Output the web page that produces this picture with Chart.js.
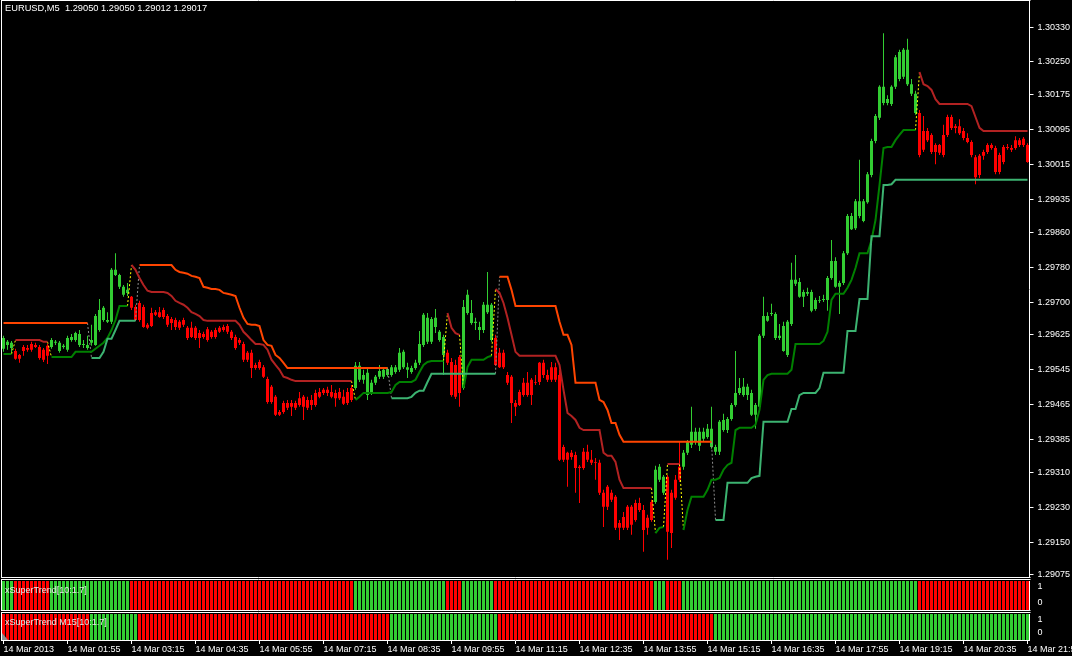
<!DOCTYPE html>
<html>
<head>
<meta charset="utf-8">
<script src="https://cdn.jsdelivr.net/npm/chart.js@4.4.1/dist/chart.umd.min.js"></script>
<style>
  html, body { margin: 0; padding: 0; background: #000; }
  #wrap { position: relative; width: 1072px; height: 656px; overflow: hidden; background: #000; }
  canvas { position: absolute; left: 0; }
</style>
</head>
<body>
<div id="wrap">
  <canvas id="main" width="1072" height="578" style="top:0px"></canvas>
  <canvas id="sub1" width="1072" height="34" style="top:578px"></canvas>
  <canvas id="sub2" width="1072" height="44" style="top:612px"></canvas>
</div>
<script>
(function () {
  "use strict";

  // EURUSD M5 candles, 14 Mar 2013 00:35 .. 21:55 (257 bars).
  const opens = [
    1.29593,1.29602,1.29595,1.29588,1.29579,1.29597,1.29595,1.29604,1.29602,1.29597,
    1.29591,1.29600,1.29597,1.29607,1.29588,1.29597,1.29591,1.29613,1.29613,1.29602,
    1.29602,1.29595,1.29607,1.29602,1.29636,1.29659,1.29655,1.29655,1.29762,1.29735,
    1.29717,1.29721,1.29712,1.29689,1.29698,1.29689,1.29648,1.29675,1.29677,1.29677,
    1.29682,1.29668,1.29661,1.29659,1.29655,1.29659,1.29641,1.29641,1.29641,1.29629,
    1.29627,1.29638,1.29632,1.29636,1.29641,1.29643,1.29645,1.29632,1.29620,1.29613,
    1.29604,1.29584,1.29584,1.29556,1.29563,1.29551,1.29524,1.29506,1.29483,1.29448,
    1.29469,1.29469,1.29469,1.29469,1.29480,1.29483,1.29476,1.29476,1.29492,1.29494,
    1.29499,1.29499,1.29494,1.29492,1.29494,1.29483,1.29494,1.29503,1.29503,1.29522,
    1.29522,1.29487,1.29492,1.29515,1.29529,1.29529,1.29533,1.29533,1.29540,1.29545,
    1.29551,1.29545,1.29540,1.29549,1.29561,1.29602,1.29609,1.29609,1.29643,1.29613,
    1.29579,1.29584,1.29563,1.29556,1.29574,1.29503,1.29675,1.29652,1.29652,1.29636,
    1.29636,1.29677,1.29613,1.29618,1.29584,1.29584,1.29533,1.29529,1.29469,1.29494,
    1.29515,1.29515,1.29522,1.29517,1.29561,1.29561,1.29533,1.29551,1.29551,1.29533,
    1.29368,1.29355,1.29355,1.29350,1.29323,1.29357,1.29357,1.29339,1.29334,1.29332,
    1.29263,1.29277,1.29263,1.29254,1.29194,1.29208,1.29231,1.29231,1.29240,1.29240,
    1.29224,1.29206,1.29242,1.29242,1.29293,1.29263,1.29300,1.29263,1.29293,1.29323,
    1.29323,1.29355,1.29373,1.29380,1.29371,1.29387,1.29391,1.29368,1.29357,1.29357,
    1.29407,1.29407,1.29432,1.29464,1.29492,1.29487,1.29487,1.29492,1.29442,1.29460,
    1.29623,1.29668,1.29673,1.29673,1.29618,1.29645,1.29579,1.29650,1.29742,1.29746,
    1.29712,1.29719,1.29723,1.29684,1.29703,1.29705,1.29705,1.29755,1.29794,1.29735,
    1.29744,1.29812,1.29897,1.29869,1.29897,1.29931,1.29929,1.29991,1.30069,1.30122,
    1.30156,1.30165,1.30154,1.30193,1.30211,1.30216,1.30278,1.30199,1.30177,1.30133,
    1.30049,1.30092,1.30083,1.30044,1.30060,1.30037,1.30083,1.30124,1.30099,1.30103,
    1.30092,1.30076,1.30067,1.30032,1.29991,1.30035,1.30044,1.30060,1.30053,1.29998,
    1.30021,1.30055,1.30053,1.30053,1.30071,1.30060,1.30060
  ];
  const highs = [
    1.29623,1.29613,1.29611,1.29593,1.29581,1.29602,1.29602,1.29609,1.29607,1.29602,
    1.29595,1.29604,1.29618,1.29613,1.29611,1.29604,1.29623,1.29627,1.29632,1.29636,
    1.29613,1.29623,1.29648,1.29673,1.29707,1.29691,1.29677,1.29778,1.29812,1.29765,
    1.29739,1.29744,1.29714,1.29694,1.29703,1.29694,1.29652,1.29687,1.29682,1.29689,
    1.29687,1.29673,1.29666,1.29664,1.29659,1.29664,1.29645,1.29655,1.29645,1.29636,
    1.29632,1.29643,1.29636,1.29641,1.29645,1.29648,1.29650,1.29636,1.29625,1.29618,
    1.29609,1.29588,1.29591,1.29561,1.29568,1.29556,1.29529,1.29510,1.29487,1.29453,
    1.29474,1.29476,1.29476,1.29474,1.29494,1.29487,1.29483,1.29487,1.29499,1.29503,
    1.29503,1.29506,1.29510,1.29499,1.29503,1.29499,1.29503,1.29510,1.29563,1.29563,
    1.29545,1.29549,1.29522,1.29533,1.29556,1.29549,1.29551,1.29556,1.29556,1.29595,
    1.29591,1.29561,1.29554,1.29568,1.29634,1.29675,1.29675,1.29666,1.29684,1.29636,
    1.29625,1.29591,1.29572,1.29568,1.29579,1.29705,1.29728,1.29705,1.29664,1.29655,
    1.29700,1.29769,1.29698,1.29625,1.29595,1.29591,1.29540,1.29533,1.29476,1.29499,
    1.29526,1.29540,1.29526,1.29533,1.29563,1.29568,1.29545,1.29563,1.29561,1.29545,
    1.29373,1.29357,1.29361,1.29357,1.29327,1.29366,1.29373,1.29361,1.29343,1.29339,
    1.29270,1.29281,1.29270,1.29258,1.29201,1.29219,1.29235,1.29235,1.29247,1.29252,
    1.29235,1.29213,1.29247,1.29325,1.29329,1.29304,1.29304,1.29270,1.29304,1.29380,
    1.29361,1.29384,1.29460,1.29412,1.29412,1.29412,1.29421,1.29460,1.29373,1.29430,
    1.29444,1.29437,1.29469,1.29588,1.29526,1.29526,1.29513,1.29499,1.29469,1.29627,
    1.29712,1.29677,1.29696,1.29677,1.29650,1.29655,1.29659,1.29790,1.29808,1.29755,
    1.29728,1.29733,1.29728,1.29710,1.29714,1.29717,1.29760,1.29842,1.29803,1.29749,
    1.29817,1.29902,1.29904,1.29936,1.30026,1.29936,1.29998,1.30074,1.30131,1.30197,
    1.30316,1.30174,1.30197,1.30266,1.30278,1.30282,1.30303,1.30211,1.30184,1.30140,
    1.30126,1.30099,1.30087,1.30064,1.30062,1.30106,1.30129,1.30129,1.30108,1.30119,
    1.30099,1.30087,1.30071,1.30037,1.30039,1.30049,1.30064,1.30064,1.30058,1.30042,
    1.30060,1.30062,1.30060,1.30080,1.30076,1.30078,1.30064
  ];
  const lows = [
    1.29586,1.29591,1.29584,1.29568,1.29561,1.29577,1.29586,1.29586,1.29595,1.29568,
    1.29563,1.29558,1.29593,1.29602,1.29584,1.29593,1.29586,1.29609,1.29609,1.29597,
    1.29595,1.29591,1.29600,1.29600,1.29632,1.29655,1.29652,1.29650,1.29760,1.29730,
    1.29712,1.29714,1.29682,1.29657,1.29655,1.29641,1.29638,1.29643,1.29668,1.29664,
    1.29661,1.29643,1.29636,1.29636,1.29636,1.29643,1.29613,1.29618,1.29613,1.29595,
    1.29616,1.29609,1.29616,1.29616,1.29629,1.29632,1.29627,1.29613,1.29591,1.29602,
    1.29563,1.29563,1.29526,1.29545,1.29545,1.29526,1.29467,1.29467,1.29439,1.29439,
    1.29444,1.29453,1.29439,1.29453,1.29460,1.29430,1.29453,1.29453,1.29460,1.29480,
    1.29487,1.29485,1.29480,1.29460,1.29476,1.29464,1.29464,1.29471,1.29499,1.29517,
    1.29513,1.29476,1.29487,1.29510,1.29524,1.29524,1.29529,1.29529,1.29536,1.29540,
    1.29547,1.29526,1.29536,1.29545,1.29556,1.29597,1.29604,1.29604,1.29629,1.29609,
    1.29533,1.29556,1.29483,1.29478,1.29460,1.29499,1.29671,1.29648,1.29636,1.29613,
    1.29629,1.29673,1.29609,1.29554,1.29549,1.29547,1.29510,1.29423,1.29439,1.29462,
    1.29483,1.29483,1.29464,1.29510,1.29510,1.29526,1.29517,1.29517,1.29517,1.29336,
    1.29334,1.29277,1.29339,1.29263,1.29240,1.29316,1.29334,1.29327,1.29293,1.29258,
    1.29185,1.29224,1.29242,1.29178,1.29155,1.29178,1.29178,1.29167,1.29197,1.29219,
    1.29128,1.29167,1.29197,1.29238,1.29288,1.29258,1.29110,1.29137,1.29247,1.29288,
    1.29316,1.29350,1.29366,1.29373,1.29359,1.29382,1.29387,1.29364,1.29350,1.29350,
    1.29403,1.29400,1.29428,1.29460,1.29487,1.29483,1.29476,1.29439,1.29410,1.29455,
    1.29618,1.29655,1.29668,1.29613,1.29613,1.29586,1.29574,1.29645,1.29737,1.29710,
    1.29689,1.29714,1.29677,1.29680,1.29698,1.29700,1.29680,1.29751,1.29733,1.29673,
    1.29739,1.29808,1.29865,1.29865,1.29892,1.29883,1.29925,1.29986,1.30064,1.30117,
    1.30151,1.30151,1.30149,1.30188,1.30206,1.30211,1.30195,1.30172,1.30129,1.30032,
    1.30044,1.30067,1.30039,1.30016,1.30037,1.30032,1.30078,1.30094,1.30087,1.30083,
    1.30071,1.30064,1.30032,1.29970,1.29984,1.30026,1.30039,1.30049,1.29993,1.29993,
    1.30016,1.30049,1.30044,1.30049,1.30055,1.30055,1.30019
  ];
  const closes = [
    1.29618,1.29609,1.29607,1.29570,1.29570,1.29588,1.29591,1.29591,1.29597,1.29572,
    1.29568,1.29577,1.29613,1.29609,1.29607,1.29600,1.29618,1.29620,1.29629,1.29627,
    1.29604,1.29602,1.29613,1.29668,1.29682,1.29687,1.29659,1.29774,1.29774,1.29762,
    1.29735,1.29728,1.29687,1.29659,1.29659,1.29643,1.29641,1.29645,1.29671,1.29666,
    1.29666,1.29648,1.29652,1.29643,1.29641,1.29648,1.29618,1.29620,1.29618,1.29618,
    1.29620,1.29613,1.29620,1.29620,1.29632,1.29636,1.29632,1.29618,1.29595,1.29607,
    1.29568,1.29568,1.29549,1.29549,1.29549,1.29529,1.29471,1.29471,1.29442,1.29442,
    1.29448,1.29458,1.29460,1.29458,1.29464,1.29460,1.29458,1.29464,1.29464,1.29483,
    1.29492,1.29492,1.29483,1.29480,1.29480,1.29467,1.29469,1.29476,1.29554,1.29554,
    1.29533,1.29538,1.29515,1.29529,1.29542,1.29545,1.29547,1.29551,1.29551,1.29584,
    1.29586,1.29551,1.29549,1.29561,1.29604,1.29671,1.29664,1.29661,1.29664,1.29632,
    1.29620,1.29561,1.29487,1.29483,1.29492,1.29689,1.29717,1.29675,1.29655,1.29643,
    1.29694,1.29694,1.29694,1.29556,1.29551,1.29551,1.29515,1.29469,1.29460,1.29464,
    1.29487,1.29487,1.29487,1.29515,1.29517,1.29533,1.29522,1.29522,1.29522,1.29339,
    1.29339,1.29339,1.29345,1.29320,1.29320,1.29320,1.29339,1.29332,1.29332,1.29263,
    1.29231,1.29231,1.29247,1.29183,1.29183,1.29183,1.29183,1.29190,1.29201,1.29224,
    1.29178,1.29183,1.29201,1.29316,1.29323,1.29300,1.29174,1.29171,1.29252,1.29293,
    1.29355,1.29380,1.29403,1.29403,1.29403,1.29403,1.29410,1.29410,1.29368,1.29426,
    1.29430,1.29432,1.29464,1.29492,1.29503,1.29506,1.29506,1.29442,1.29464,1.29623,
    1.29668,1.29657,1.29675,1.29618,1.29623,1.29588,1.29655,1.29751,1.29751,1.29712,
    1.29723,1.29723,1.29680,1.29705,1.29705,1.29707,1.29755,1.29794,1.29735,1.29744,
    1.29812,1.29897,1.29867,1.29931,1.29931,1.29886,1.29993,1.30069,1.30126,1.30193,
    1.30193,1.30156,1.30193,1.30261,1.30273,1.30278,1.30199,1.30177,1.30133,1.30037,
    1.30092,1.30071,1.30044,1.30060,1.30042,1.30083,1.30124,1.30099,1.30103,1.30087,
    1.30076,1.30067,1.30037,1.29986,1.30035,1.30044,1.30060,1.30053,1.29998,1.30037,
    1.30055,1.30053,1.30049,1.30071,1.30060,1.30074,1.30021
  ];

  // xSuperTrend line values, M5 [10:1.7] and M15 [10:1.7]
  const st5 = [
    1.29581,1.29581,1.29581,1.29613,1.29613,1.29613,1.29613,1.29613,1.29613,1.29613,
    1.29609,1.29609,1.29574,1.29574,1.29574,1.29574,1.29574,1.29574,1.29586,1.29586,
    1.29586,1.29586,1.29586,1.29593,1.29600,1.29607,1.29618,1.29636,1.29659,1.29691,
    1.29691,1.29691,1.29785,1.29774,1.29755,1.29739,1.29726,1.29723,1.29723,1.29723,
    1.29723,1.29721,1.29714,1.29703,1.29698,1.29694,1.29687,1.29677,1.29673,1.29668,
    1.29659,1.29657,1.29657,1.29657,1.29657,1.29657,1.29657,1.29657,1.29657,1.29648,
    1.29632,1.29623,1.29613,1.29604,1.29604,1.29602,1.29591,1.29568,1.29556,1.29545,
    1.29529,1.29526,1.29522,1.29519,1.29519,1.29519,1.29519,1.29519,1.29519,1.29519,
    1.29519,1.29519,1.29519,1.29519,1.29519,1.29519,1.29519,1.29519,1.29476,1.29483,
    1.29492,1.29492,1.29492,1.29492,1.29492,1.29492,1.29492,1.29494,1.29510,1.29517,
    1.29517,1.29517,1.29517,1.29522,1.29540,1.29556,1.29563,1.29565,1.29565,1.29565,
    1.29565,1.29675,1.29641,1.29629,1.29625,1.29503,1.29551,1.29568,1.29568,1.29568,
    1.29568,1.29574,1.29577,1.29730,1.29721,1.29698,1.29664,1.29625,1.29586,1.29577,
    1.29577,1.29577,1.29577,1.29577,1.29577,1.29577,1.29577,1.29577,1.29577,1.29556,
    1.29499,1.29446,1.29439,1.29430,1.29412,1.29407,1.29407,1.29407,1.29407,1.29407,
    1.29355,1.29348,1.29348,1.29334,1.29293,1.29274,1.29274,1.29274,1.29274,1.29274,
    1.29274,1.29274,1.29274,1.29171,1.29183,1.29185,1.29329,1.29329,1.29329,1.29329,
    1.29178,1.29224,1.29254,1.29254,1.29254,1.29254,1.29270,1.29293,1.29293,1.29297,
    1.29316,1.29327,1.29332,1.29407,1.29412,1.29412,1.29412,1.29412,1.29419,1.29453,
    1.29522,1.29533,1.29536,1.29536,1.29536,1.29536,1.29536,1.29545,1.29604,1.29604,
    1.29604,1.29604,1.29604,1.29604,1.29604,1.29611,1.29632,1.29705,1.29719,1.29719,
    1.29719,1.29733,1.29751,1.29778,1.29812,1.29812,1.29812,1.29842,1.29888,1.29968,
    1.30053,1.30055,1.30055,1.30071,1.30083,1.30094,1.30094,1.30094,1.30094,1.30227,
    1.30199,1.30195,1.30186,1.30165,1.30154,1.30154,1.30154,1.30154,1.30154,1.30154,
    1.30154,1.30154,1.30149,1.30124,1.30099,1.30092,1.30092,1.30092,1.30092,1.30092,
    1.30092,1.30092,1.30092,1.30092,1.30092,1.30092,1.30092
  ];
  const st15 = [
    1.29652,1.29652,1.29652,1.29652,1.29652,1.29652,1.29652,1.29652,1.29652,1.29652,
    1.29652,1.29652,1.29652,1.29652,1.29652,1.29652,1.29652,1.29652,1.29652,1.29652,
    1.29652,1.29652,1.29572,1.29572,1.29572,1.29586,1.29616,1.29616,1.29636,1.29657,
    1.29657,1.29657,1.29657,1.29657,1.29785,1.29785,1.29785,1.29785,1.29785,1.29785,
    1.29785,1.29785,1.29785,1.29774,1.29769,1.29767,1.29765,1.29760,1.29758,1.29755,
    1.29735,1.29733,1.29730,1.29730,1.29728,1.29721,1.29719,1.29717,1.29714,1.29687,
    1.29664,1.29650,1.29648,1.29648,1.29645,1.29613,1.29602,1.29600,1.29579,1.29572,
    1.29561,1.29549,1.29549,1.29549,1.29549,1.29549,1.29549,1.29549,1.29549,1.29549,
    1.29549,1.29549,1.29549,1.29549,1.29549,1.29549,1.29549,1.29549,1.29549,1.29549,
    1.29549,1.29549,1.29549,1.29549,1.29549,1.29549,1.29549,1.29480,1.29480,1.29480,
    1.29480,1.29480,1.29483,1.29492,1.29497,1.29497,1.29517,1.29536,1.29536,1.29536,
    1.29536,1.29536,1.29536,1.29536,1.29536,1.29536,1.29536,1.29536,1.29536,1.29536,
    1.29536,1.29536,1.29536,1.29536,1.29758,1.29758,1.29758,1.29728,1.29691,1.29691,
    1.29691,1.29691,1.29691,1.29691,1.29691,1.29691,1.29691,1.29691,1.29691,1.29655,
    1.29625,1.29625,1.29602,1.29515,1.29515,1.29515,1.29515,1.29515,1.29515,1.29476,
    1.29471,1.29453,1.29423,1.29423,1.29396,1.29380,1.29380,1.29380,1.29380,1.29380,
    1.29380,1.29380,1.29380,1.29380,1.29380,1.29380,1.29380,1.29380,1.29380,1.29380,
    1.29380,1.29380,1.29380,1.29380,1.29380,1.29380,1.29380,1.29380,1.29201,1.29201,
    1.29201,1.29286,1.29286,1.29286,1.29286,1.29286,1.29286,1.29297,1.29300,1.29302,
    1.29426,1.29426,1.29426,1.29426,1.29426,1.29426,1.29426,1.29455,1.29455,1.29487,
    1.29492,1.29492,1.29492,1.29492,1.29503,1.29538,1.29538,1.29538,1.29538,1.29538,
    1.29538,1.29634,1.29634,1.29634,1.29707,1.29707,1.29707,1.29851,1.29851,1.29851,
    1.29968,1.29968,1.29970,1.29980,1.29980,1.29980,1.29980,1.29980,1.29980,1.29980,
    1.29980,1.29980,1.29980,1.29980,1.29980,1.29980,1.29980,1.29980,1.29980,1.29980,
    1.29980,1.29980,1.29980,1.29980,1.29980,1.29980,1.29980,1.29980,1.29980,1.29980,
    1.29980,1.29980,1.29980,1.29980,1.29980,1.29980,1.29980
  ];

  // trend direction runs: [1 = up, 0 = down, number of bars]
  const trend5Runs = [[1,3],[0,9],[1,20],[0,56],[1,23],[0,4],[1,8],[0,40],[1,3],[0,4],[1,59],[0,28]];
  const trend15Runs = [[0,22],[1,12],[0,63],[1,27],[0,54],[1,79]];

  const timeTicks = ['14 Mar 2013','14 Mar 01:55','14 Mar 03:15','14 Mar 04:35','14 Mar 05:55',
    '14 Mar 07:15','14 Mar 08:35','14 Mar 09:55','14 Mar 11:15','14 Mar 12:35','14 Mar 13:55',
    '14 Mar 15:15','14 Mar 16:35','14 Mar 17:55','14 Mar 19:15','14 Mar 20:35','14 Mar 21:55'];
  const priceTicks = [1.30330,1.30250,1.30175,1.30095,1.30015,1.29935,1.29860,1.29780,1.29700,
    1.29625,1.29545,1.29465,1.29385,1.29310,1.29230,1.29150,1.29075];
  const TITLE = 'EURUSD,M5  1.29050 1.29050 1.29012 1.29017';
  const TICK_EVERY = 16;

  const UP = '#32cd32', DN = '#ff0000';
  const FONT = '"Liberation Sans", Arial, sans-serif';
  Chart.defaults.font.family = FONT;
  Chart.defaults.font.size = 9;
  Chart.defaults.color = '#ffffff';

  function expand(runs) {
    const out = [];
    runs.forEach(function (r) { for (let k = 0; k < r[1]; k++) out.push(r[0]); });
    return out;
  }
  const trend5 = expand(trend5Runs);
  const trend15 = expand(trend15Runs);
  const barLabels = closes.map(function (_, i) { return i % TICK_EVERY === 0 ? timeTicks[i / TICK_EVERY] : ''; });
  const colors5 = trend5.map(function (t) { return t ? UP : DN; });

  function pick(line, trend, want) {
    return line.map(function (v, i) { return trend[i] === want ? v : null; });
  }
  // dotted connector where the trend flips: last value of the old line to first of the new one
  function switches(line, trend) {
    const out = line.map(function () { return null; });
    for (let i = 1; i < trend.length; i++) {
      if (trend[i] !== trend[i - 1]) { out[i - 1] = line[i - 1]; out[i] = line[i]; }
    }
    return out;
  }
  function lineDs(data, color, width, dash) {
    return {
      type: 'line', data: data, borderColor: color, borderWidth: width, borderDash: dash || [],
      pointRadius: 0, tension: 0, spanGaps: false, order: 0
    };
  }

  // white panel frame + free texts
  const panelDecor = {
    id: 'panelDecor',
    afterDraw: function (chart, args, o) {
      const ctx = chart.ctx, a = chart.chartArea;
      ctx.save();
      ctx.strokeStyle = '#ffffff';
      ctx.lineWidth = 1;
      ctx.beginPath();
      ctx.moveTo(1.5, o.frameTop); ctx.lineTo(1.5, o.frameBottom);
      (o.hLines || []).forEach(function (y) { ctx.moveTo(1, y); ctx.lineTo(a.right + 1, y); });
      ctx.stroke();
      if (o.corner) {
        // small grey resize marker at the lower left of the last sub-window
        ctx.fillStyle = '#8c8c8c';
        ctx.beginPath();
        ctx.moveTo(2, a.bottom - 7); ctx.lineTo(2, a.bottom); ctx.lineTo(8, a.bottom);
        ctx.closePath(); ctx.fill();
      }
      ctx.textBaseline = 'middle';
      if (o.text) {
        ctx.font = (o.textSize || 9) + 'px ' + FONT;
        ctx.fillStyle = o.textColor || '#ffffff';
        ctx.fillText(o.text, o.textX, o.textY);
      }
      if (o.scaleLabels) {
        ctx.font = '9px ' + FONT;
        ctx.fillStyle = '#ffffff';
        ctx.fillText('1', a.right + 8, a.top + 6);
        ctx.fillText('0', a.right + 8, a.bottom - 7);
      }
      ctx.restore();
    }
  };

  const common = {
    responsive: false, animation: false, devicePixelRatio: 1, events: [],
    plugins: { legend: { display: false }, tooltip: { enabled: false } }
  };

  // main price panel
  new Chart(document.getElementById('main'), {
    type: 'bar',
    data: {
      labels: barLabels,
      datasets: [
        lineDs(pick(st15, trend15, 1), '#3cb371', 2),
        lineDs(pick(st15, trend15, 0), '#ff4500', 2),
        lineDs(pick(st5, trend5, 1), '#008000', 2),
        lineDs(pick(st5, trend5, 0), '#b22222', 2),
        lineDs(switches(st15, trend15), '#8c8c8c', 1, [2, 2]),
        lineDs(switches(st5, trend5), '#ffff00', 1, [2, 2]),
        {
          data: lows.map(function (l, i) { return [l, highs[i]]; }),
          backgroundColor: colors5, barThickness: 1, grouped: false,
          borderWidth: 0, inflateAmount: 0, order: 2
        },
        {
          data: opens.map(function (o, i) { return [Math.min(o, closes[i]), Math.max(o, closes[i])]; }),
          backgroundColor: colors5, barThickness: 3, grouped: false,
          borderWidth: 0, inflateAmount: 0, order: 1
        }
      ]
    },
    options: Object.assign({}, common, {
      layout: { padding: { left: 1.5, right: 0, top: 0, bottom: 0 } },
      scales: {
        x: { type: 'category', display: false, offset: true, grid: { display: false } },
        y: {
          position: 'right', min: 1.29068, max: 1.30392,
          afterBuildTicks: function (s) { s.ticks = priceTicks.map(function (v) { return { value: v }; }); },
          afterFit: function (s) { s.width = 42.5; s.paddingTop = 0; s.paddingBottom = 0; },
          ticks: { padding: 4, color: '#ffffff', callback: function (v) { return Number(v).toFixed(5); } },
          grid: { drawOnChartArea: false, drawTicks: true, tickLength: 4, color: '#ffffff' },
          border: { display: true, color: '#ffffff' }
        }
      },
      plugins: Object.assign({}, common.plugins, {
        panelDecor: { frameTop: 0, frameBottom: 578, hLines: [0.5, 577.5], text: TITLE, textSize: 9.3, textX: 5, textY: 8 }
      })
    }),
    plugins: [panelDecor]
  });

  // indicator sub-panels (one bar per candle, coloured by trend)
  function trendPanel(id, trend, name, withTimeAxis, pad, decor) {
    new Chart(document.getElementById(id), {
      type: 'bar',
      data: {
        labels: barLabels,
        datasets: [
          { data: trend.map(function (t) { return t ? 1 : null; }), backgroundColor: UP,
            barThickness: 3, grouped: false, borderWidth: 0, inflateAmount: 0 },
          { data: trend.map(function (t) { return t ? null : 1; }), backgroundColor: DN,
            barThickness: 3, grouped: false, borderWidth: 0, inflateAmount: 0 }
        ]
      },
      options: Object.assign({}, common, {
        layout: { padding: pad },
        scales: {
          x: withTimeAxis ? {
            type: 'category', offset: true,
            afterBuildTicks: function (s) { s.ticks = s.ticks.filter(function (t) { return t.value % TICK_EVERY === 0; }); },
            afterFit: function (s) { s.height = 16; s.paddingLeft = 0; s.paddingRight = 0; },
            ticks: { autoSkip: false, maxRotation: 0, align: 'start', padding: 0, color: '#ffffff',
              callback: function (v) { return timeTicks[v / TICK_EVERY]; } },
            grid: { drawOnChartArea: false, drawTicks: true, tickLength: 4, color: '#ffffff', offset: false },
            border: { display: true, color: '#ffffff' }
          } : { type: 'category', display: false, offset: true, grid: { display: false } },
          y: {
            position: 'right', min: 0, max: 1,
            afterFit: function (s) { s.width = 42.5; s.paddingTop = 0; s.paddingBottom = 0; },
            ticks: { display: false },
            grid: { display: false },
            border: { display: true, color: '#ffffff' }
          }
        },
        plugins: Object.assign({}, common.plugins, {
          panelDecor: Object.assign({ text: name, textColor: '#e6e6e6', textX: 5, scaleLabels: true }, decor)
        })
      }),
      plugins: [panelDecor]
    });
  }

  trendPanel('sub1', trend5, 'xSuperTrend[10:1.7]', false,
    { left: 1.5, right: 0, top: 3, bottom: 2 },
    { frameTop: 1, frameBottom: 33, hLines: [1.5, 32.5], textY: 13 });
  trendPanel('sub2', trend15, 'xSuperTrend M15[10:1.7]', true,
    { left: 1.5, right: 0, top: 2, bottom: 0 },
    { frameTop: 0, frameBottom: 28, hLines: [0.5], textY: 11, corner: true });
})();
</script>
</body>
</html>
